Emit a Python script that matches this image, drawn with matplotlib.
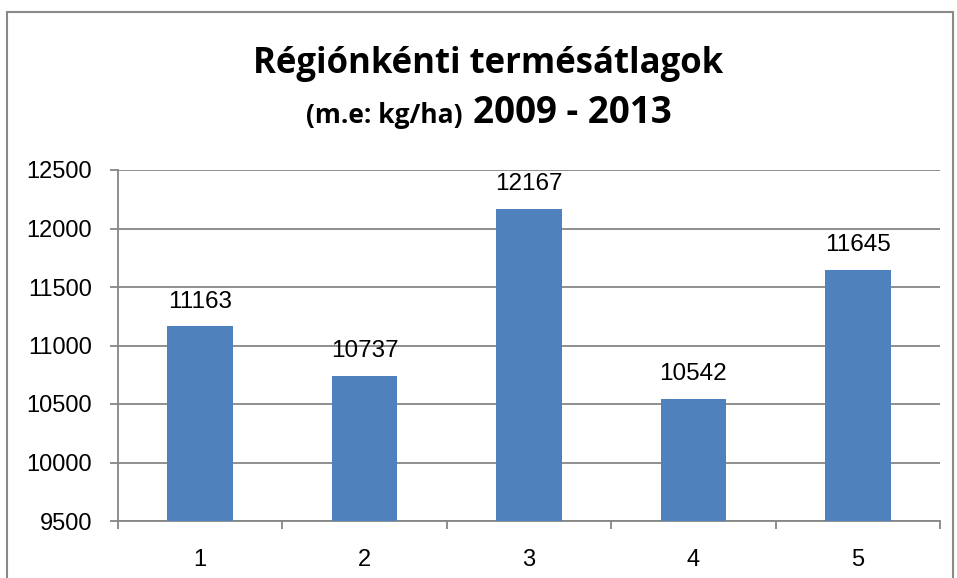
import matplotlib.pyplot as plt
from matplotlib.patches import Rectangle

# Data
regions = ["1", "2", "3", "4", "5"]
yields = [11163, 10737, 12167, 10542, 11645]
y_ticks = [9500, 10000, 10500, 11000, 11500, 12000, 12500]

bar_color = "#4F81BD"
grid_color = "#868686"
font = "Liberation Sans"
W, H = 957, 578

fig = plt.figure(figsize=(W / 100, H / 100), dpi=100)

# outer chart frame
fig.patches.append(Rectangle((7 / W, -0.05), 946 / W, 1.05 - 12 / H,
                             transform=fig.transFigure, fill=False,
                             edgecolor="#898989", linewidth=1.5))

ax = fig.add_axes([118 / W, 1 - 521 / H, 822 / W, 351 / H])

x = list(range(len(regions)))
ax.bar(x, [v - y_ticks[0] for v in yields], bottom=y_ticks[0], width=0.4,
       color=bar_color, zorder=3)

for xi, v in zip(x, yields):
    ax.annotate(str(v), (xi, v), xytext=(0, 10), textcoords="offset points",
                ha="center", va="bottom", fontsize=17.5, family=font)

ax.set_xlim(-0.5, len(regions) - 0.5)
ax.set_ylim(y_ticks[0], y_ticks[-1])
ax.set_yticks(y_ticks)
ax.set_yticklabels([str(t) for t in y_ticks], fontsize=17, family=font)
ax.yaxis.grid(True, color=grid_color, linewidth=1.3, zorder=0)

# category labels centered, tick marks on category boundaries
ax.set_xticks([i - 0.5 for i in range(len(regions) + 1)])
ax.set_xticklabels([])
ax.set_xticks(x, minor=True)
ax.set_xticklabels(regions, minor=True, fontsize=17, family=font)
ax.tick_params(axis="x", which="minor", length=0, pad=20)
ax.tick_params(axis="x", which="major", length=5.8, width=1.3, color=grid_color)
ax.tick_params(axis="y", length=5.8, width=1.3, color=grid_color, pad=13)

for side in ["top", "right"]:
    ax.spines[side].set_visible(False)
for side in ["left", "bottom"]:
    ax.spines[side].set_color(grid_color)
    ax.spines[side].set_linewidth(1.3)

# title
fig.text(488 / W, 1 - 73 / H, "Régiónkénti termésátlagok", ha="center", va="baseline",
         fontsize=25, fontweight="bold", family="Open Sans")
fig.text(473 / W, 1 - 123 / H, "2009 - 2013", ha="left", va="baseline",
         fontsize=26.5, fontweight="bold", family="Open Sans")
fig.text(462 / W, 1 - 123 / H, "(m.e: kg/ha)", ha="right", va="baseline",
         fontsize=19, fontweight="bold", family="Open Sans")

fig.savefig("out.png", dpi=100)
